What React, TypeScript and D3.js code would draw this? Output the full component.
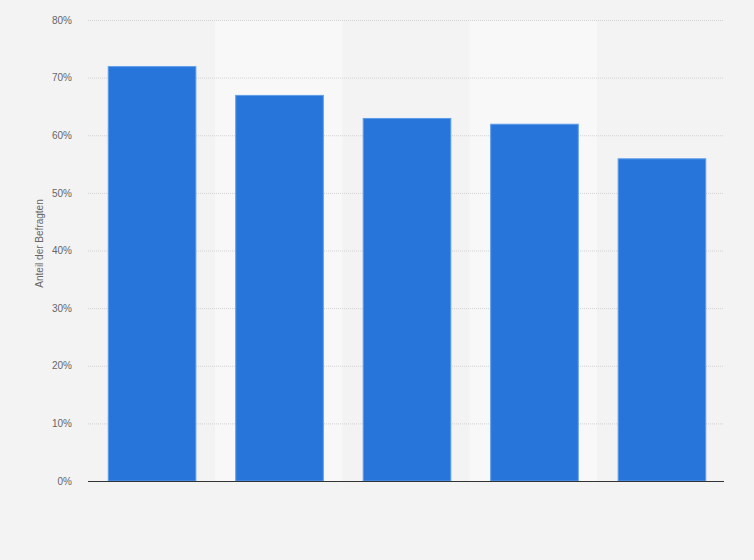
import {useEffect, useRef} from "react"

import * as d3 from "d3"

const categories = ["A", "B", "C", "D", "E"]
const values = [72, 67, 63, 62, 56]
const yTicks = [0, 10, 20, 30, 40, 50, 60, 70, 80]

const width = 754
const height = 560
const margins = {top: 20, right: 30, bottom: 79, left: 88}

const App = (): JSX.Element => {
  const ref = useRef<SVGSVGElement>(null)

  useEffect(() => {
    document.body.style.margin = "0"
    const svg = d3.select(ref.current)
    svg.selectAll("*").remove()

    svg
      .append("rect")
      .attr("width", width)
      .attr("height", height)
      .attr("fill", "#f3f3f3")

    const xScale = d3
      .scaleBand()
      .domain(categories)
      .range([margins.left, width - margins.right + 2])
      .paddingInner(0.305)
      .paddingOuter(0.155)
    const yScale = d3
      .scaleLinear()
      .domain([0, 80])
      .range([height - margins.bottom, margins.top])

    // alternating column bands
    const step = (width - margins.right - margins.left) / categories.length
    svg
      .append("g")
      .selectAll("rect")
      .data(categories.map((_, i) => i).filter((i) => i % 2 === 1))
      .join("rect")
      .attr("x", (i) => margins.left + i * step)
      .attr("y", margins.top)
      .attr("width", step)
      .attr("height", yScale(0) - margins.top)
      .attr("fill", "#f8f8f8")

    // grid
    svg
      .append("g")
      .selectAll("line")
      .data(yTicks.filter((t) => t > 0))
      .join("line")
      .attr("x1", margins.left)
      .attr("x2", width - margins.right)
      .attr("y1", (d) => yScale(d) + 0.5)
      .attr("y2", (d) => yScale(d) + 0.5)
      .attr("stroke", "#d2d2d2")
      .attr("stroke-dasharray", "1,1")

    // bars
    svg
      .append("g")
      .selectAll("rect")
      .data(values)
      .join("rect")
      .attr("x", (_, i) => xScale(categories[i])! + 0.5)
      .attr("y", (d) => yScale(d) + 0.5)
      .attr("width", xScale.bandwidth() - 1)
      .attr("height", (d) => yScale(0) - yScale(d) - 0.5)
      .attr("fill", "#2775db")
      .attr("stroke", "#5d9cec")
      .attr("stroke-width", 1)

    // baseline
    svg
      .append("line")
      .attr("x1", margins.left)
      .attr("x2", width - margins.right)
      .attr("y1", yScale(0) + 0.5)
      .attr("y2", yScale(0) + 0.5)
      .attr("stroke", "#333")
      .attr("stroke-width", 1.2)

    const yAxis = d3
      .axisLeft(yScale)
      .tickValues(yTicks)
      .tickFormat((d) => `${d}%`)
      .tickSize(0)
      .tickPadding(16)
    const axisGroup = svg
      .append("g")
      .attr("transform", `translate(${margins.left},0)`)
      .call(yAxis)
    axisGroup.select(".domain").remove()
    axisGroup
      .selectAll("text")
      .attr("fill", "#666")
      .attr("font-size", 10)
      .attr("font-family", "'Liberation Sans', Arial, sans-serif")

    svg
      .append("text")
      .attr("transform", `translate(43,${(margins.top + yScale(0)) / 2 - 7}) rotate(-90)`)
      .attr("text-anchor", "middle")
      .attr("fill", "#666")
      .attr("font-size", 10)
      .attr("font-family", "'Liberation Sans', Arial, sans-serif")
      .text("Anteil der Befragten")
  }, [])

  return <svg ref={ref} width={width} height={height} style={{display: "block"}} />
}

export default App
